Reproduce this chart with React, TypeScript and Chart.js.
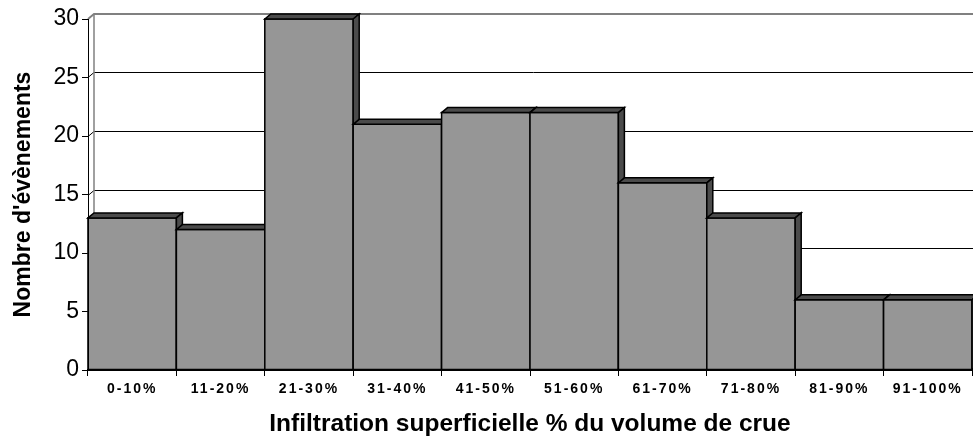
import React, { useEffect, useRef } from 'react';
import { Chart, registerables } from 'chart.js';

Chart.register(...registerables);

const categories = ['0-10%', '11-20%', '21-30%', '31-40%', '41-50%', '51-60%', '61-70%', '71-80%', '81-90%', '91-100%'];
const eventCounts = [13, 12, 30, 21, 22, 22, 16, 13, 6, 6];
const yTicks = [0, 5, 10, 15, 20, 25, 30];
const yTitle = "Nombre d'évènements";
const xTitle = 'Infiltration superficielle % du volume de crue';

const FONT = "'Liberation Sans', Arial, Helvetica, sans-serif";
const DX = 6;
const DY = -5;
const FRONT = '#969696';
const DARK = '#4b4b4b';

function poly(ctx: CanvasRenderingContext2D, pts: number[][], fill: string) {
  ctx.beginPath();
  ctx.moveTo(pts[0][0], pts[0][1]);
  for (let i = 1; i < pts.length; i++) ctx.lineTo(pts[i][0], pts[i][1]);
  ctx.closePath();
  ctx.fillStyle = fill;
  ctx.fill();
  ctx.stroke();
}

const backWall = {
  id: 'backWall',
  beforeDatasetsDraw(chart: any) {
    const { ctx, chartArea, scales } = chart;
    const ys = scales.y;
    const left = chartArea.left;
    const right = chart.width;
    ctx.save();
    ctx.lineWidth = 1;
    ctx.strokeStyle = '#000';
    const maxV = yTicks[yTicks.length - 1];
    for (const v of yTicks) {
      if (v === 0 || v === maxV) continue;
      const py = Math.round(ys.getPixelForValue(v)) + 0.5;
      ctx.beginPath();
      ctx.moveTo(left, py);
      ctx.lineTo(left + DX, py + DY);
      ctx.lineTo(right, py + DY);
      ctx.stroke();
    }
    const topY = ys.getPixelForValue(maxV);
    const botY = ys.getPixelForValue(0);
    ctx.strokeStyle = '#808080';
    ctx.lineWidth = 2;
    ctx.beginPath();
    ctx.moveTo(left, topY);
    ctx.lineTo(left + DX, topY + DY);
    ctx.lineTo(right, topY + DY);
    ctx.stroke();
    ctx.lineWidth = 1.5;
    ctx.beginPath();
    ctx.moveTo(left + DX, topY + DY);
    ctx.lineTo(left + DX, botY + DY);
    ctx.stroke();
    ctx.restore();
  },
};

const bars3d = {
  id: 'bars3d',
  afterDatasetsDraw(chart: any) {
    const meta = chart.getDatasetMeta(0);
    const ctx: CanvasRenderingContext2D = chart.ctx;
    ctx.save();
    ctx.lineJoin = 'miter';
    meta.data.forEach((el: any) => {
      const { x, y, base, width } = el.getProps(['x', 'y', 'base', 'width'], true);
      const x0 = x - width / 2;
      const x1 = x + width / 2;
      el.draw(ctx);
      ctx.strokeStyle = '#000';
      ctx.lineWidth = 1.5;
      ctx.beginPath();
      ctx.rect(x0, y, width, base - y);
      ctx.stroke();
      poly(ctx, [[x0, y], [x0 + DX, y + DY], [x1 + DX, y + DY], [x1, y]], DARK);
      poly(ctx, [[x1, y], [x1 + DX, y + DY], [x1 + DX, base + DY], [x1, base]], DARK);
    });
    ctx.restore();
  },
};

const xLetterSpacing = {
  id: 'xLetterSpacing',
  beforeDraw(chart: any) {
    const sc: any = chart.scales.x;
    if (sc && !sc.__ls) {
      const orig = sc.drawLabels.bind(sc);
      sc.drawLabels = (area: any) => {
        const ctx: any = chart.ctx;
        const prev = ctx.letterSpacing;
        ctx.letterSpacing = '2px';
        orig(area);
        ctx.letterSpacing = prev ?? '0px';
      };
      sc.__ls = true;
    }
  },
};

export default function App() {
  const ref = useRef<HTMLCanvasElement | null>(null);
  useEffect(() => {
    document.body.style.margin = '0';
    if (!ref.current) return;
    const chart = new Chart(ref.current, {
      type: 'bar',
      data: {
        labels: categories,
        datasets: [
          {
            data: eventCounts,
            backgroundColor: FRONT,
            borderWidth: 0,
            barPercentage: 1,
            categoryPercentage: 1,
          },
        ],
      },
      options: {
        responsive: false,
        animation: false,
        devicePixelRatio: 1,
        layout: { padding: { top: 19, right: 1, left: 0, bottom: 0 } },
        plugins: { legend: { display: false }, tooltip: { enabled: false } },
        scales: {
          x: {
            grid: { drawOnChartArea: false, drawTicks: true, tickLength: 6, color: '#000', lineWidth: 1, offset: true },
            border: { display: true, color: '#000', width: 2, z: 1 },
            ticks: {
              font: { family: FONT, size: 14, weight: 'bold' },
              color: '#000',
              padding: 5,
              maxRotation: 0,
              autoSkip: false,
            },
            title: {
              display: true,
              text: xTitle,
              font: { family: FONT, size: 24.5, weight: 'bold' },
              color: '#000',
              padding: { top: 0, bottom: 0 },
            },
            afterFit(scale: any) {
              scale.height = 69;
            },
          },
          y: {
            min: 0,
            max: 30,
            ticks: { stepSize: 5, font: { family: FONT, size: 23 }, color: '#000', padding: 3 },
            grid: { drawOnChartArea: false, drawTicks: true, tickLength: 6, color: '#000' },
            border: { display: true, color: '#000', width: 1, z: 1 },
            title: {
              display: true,
              text: yTitle,
              font: { family: FONT, size: 23, weight: 'bold' },
              color: '#000',
              padding: { top: 10, bottom: 0 },
            },
            afterFit(scale: any) {
              scale.width = 88;
            },
          },
        },
      } as any,
      plugins: [backWall, bars3d, xLetterSpacing],
    });
    return () => chart.destroy();
  }, []);
  return <canvas ref={ref} width={973} height={439} style={{ display: 'block' }} />;
}
